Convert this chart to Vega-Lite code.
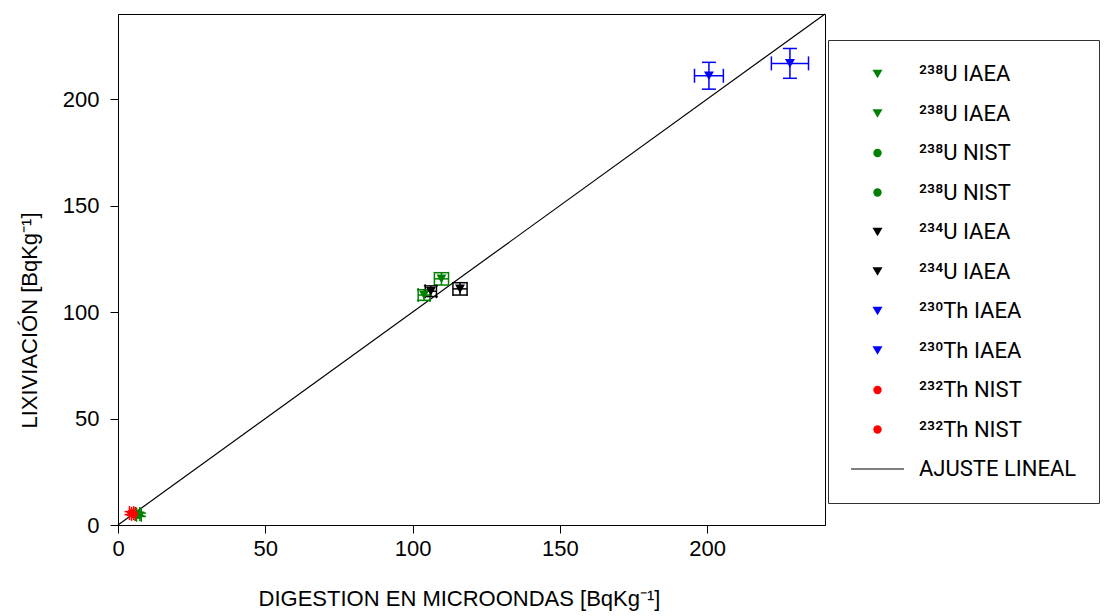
{
  "$schema": "https://vega.github.io/schema/vega-lite/v6.json",
  "width": 707,
  "height": 511,
  "autosize": {"type": "none"},
  "padding": {"left": 118, "top": 14, "right": 280, "bottom": 91},
  "background": "white",
  "config": {
    "font": "Liberation Sans",
    "view": {"stroke": "black", "strokeWidth": 1},
    "axis": {
      "labelFont": "Liberation Sans",
      "titleFont": "Liberation Sans",
      "labelFontSize": 22,
      "titleFontSize": 22,
      "titleFontWeight": "normal",
      "labelColor": "black",
      "titleColor": "black",
      "domainColor": "black",
      "tickColor": "black",
      "tickSize": 8,
      "labelFlush": false,
      "grid": false
    },
    "legend": {
      "labelFont": "Roboto, Noto Sans",
      "labelFontSize": 22,
      "labelColor": "black",
      "labelLimit": 400
    }
  },
  "datasets": {
    "pts": [
      {"series": "²³⁸U IAEA #1", "x": 109.8, "y": 115.6, "xlo": 107.4, "xhi": 112.2, "ylo": 112.7, "yhi": 118.5},
      {"series": "²³⁸U IAEA #2", "x": 103.9, "y": 108.0, "xlo": 101.9, "xhi": 105.9, "ylo": 105.5, "yhi": 110.5},
      {"series": "²³⁸U NIST #1", "x": 6.6, "y": 5.2, "xlo": 5.8, "xhi": 7.4, "ylo": 4.4, "yhi": 6.0},
      {"series": "²³⁸U NIST #2", "x": 7.1, "y": 4.8, "xlo": 6.3, "xhi": 7.9, "ylo": 4.0, "yhi": 5.6},
      {"series": "²³⁴U IAEA #1", "x": 106.2, "y": 109.8, "xlo": 104.3, "xhi": 108.1, "ylo": 107.3, "yhi": 112.3},
      {"series": "²³⁴U IAEA #2", "x": 116.1, "y": 110.9, "xlo": 113.7, "xhi": 118.5, "ylo": 108.0, "yhi": 113.8},
      {"series": "²³⁰Th IAEA #1", "x": 200.6, "y": 211.0, "xlo": 195.7, "xhi": 205.5, "ylo": 204.7, "yhi": 217.3},
      {"series": "²³⁰Th IAEA #2", "x": 228.1, "y": 216.8, "xlo": 221.8, "xhi": 234.4, "ylo": 209.8, "yhi": 223.8},
      {"series": "²³²Th NIST #1", "x": 4.6, "y": 5.6, "xlo": 3.9, "xhi": 5.3, "ylo": 4.9, "yhi": 6.3},
      {"series": "²³²Th NIST #2", "x": 5.3, "y": 5.2, "xlo": 4.6, "xhi": 6.0, "ylo": 4.5, "yhi": 5.9}
    ],
    "fit": [
      {"x": 0, "y": 0},
      {"x": 240, "y": 240}
    ]
  },
  "layer": [
    {
      "data": {"name": "fit"},
      "mark": {"type": "line", "color": "black", "strokeWidth": 1.2},
      "encoding": {
        "x": {"field": "x", "type": "quantitative", "title": "DIGESTION EN MICROONDAS [BqKg⁻¹]",
              "scale": {"domain": [0, 240], "nice": false, "zero": false},
              "axis": {"values": [0, 50, 100, 150, 200], "labelPadding": 5, "titleX": 341, "titleY": 80, "titleAlign": "center", "titleBaseline": "alphabetic"}},
        "y": {"field": "y", "type": "quantitative", "title": "LIXIVIACIÓN [BqKg⁻¹]",
              "scale": {"domain": [0, 240], "nice": false, "zero": false},
              "axis": {"values": [0, 50, 100, 150, 200], "labelPadding": 11, "titleX": -82, "titleY": 306, "titleAlign": "center", "titleBaseline": "alphabetic", "titleAngle": 270}}
      }
    },
    {
      "data": {"name": "pts"},
      "mark": {"type": "rule", "strokeWidth": 1.5},
      "encoding": {
        "x": {"field": "xlo", "type": "quantitative", "title": "DIGESTION EN MICROONDAS [BqKg⁻¹]"},
        "x2": {"field": "xhi"},
        "y": {"field": "y", "type": "quantitative", "title": "LIXIVIACIÓN [BqKg⁻¹]"},
        "stroke": {"field": "series", "type": "nominal", "legend": null,
                   "scale": {"domain": ["²³⁸U IAEA #1","²³⁸U IAEA #2","²³⁸U NIST #1","²³⁸U NIST #2","²³⁴U IAEA #1","²³⁴U IAEA #2","²³⁰Th IAEA #1","²³⁰Th IAEA #2","²³²Th NIST #1","²³²Th NIST #2"],
                             "range": ["#008000","#008000","#008000","#008000","#000000","#000000","#0000FF","#0000FF","#FF0000","#FF0000"]}}
      }
    },
    {
      "data": {"name": "pts"},
      "mark": {"type": "rule", "strokeWidth": 1.5},
      "encoding": {
        "x": {"field": "x", "type": "quantitative", "title": "DIGESTION EN MICROONDAS [BqKg⁻¹]"},
        "y": {"field": "ylo", "type": "quantitative", "title": "LIXIVIACIÓN [BqKg⁻¹]"},
        "y2": {"field": "yhi"},
        "stroke": {"field": "series", "type": "nominal", "legend": null}
      }
    },
    {
      "data": {"name": "pts"},
      "mark": {"type": "tick", "orient": "vertical", "size": 14, "thickness": 1.5, "opacity": 1},
      "encoding": {
        "x": {"field": "xlo", "type": "quantitative", "title": "DIGESTION EN MICROONDAS [BqKg⁻¹]"},
        "y": {"field": "y", "type": "quantitative", "title": "LIXIVIACIÓN [BqKg⁻¹]"},
        "fill": {"field": "series", "type": "nominal", "legend": null,
                 "scale": {"domain": ["²³⁸U IAEA #1","²³⁸U IAEA #2","²³⁸U NIST #1","²³⁸U NIST #2","²³⁴U IAEA #1","²³⁴U IAEA #2","²³⁰Th IAEA #1","²³⁰Th IAEA #2","²³²Th NIST #1","²³²Th NIST #2"],
                           "range": ["#008000","#008000","#008000","#008000","#000000","#000000","#0000FF","#0000FF","#FF0000","#FF0000"]}}
      }
    },
    {
      "data": {"name": "pts"},
      "mark": {"type": "tick", "orient": "vertical", "size": 14, "thickness": 1.5, "opacity": 1},
      "encoding": {
        "x": {"field": "xhi", "type": "quantitative", "title": "DIGESTION EN MICROONDAS [BqKg⁻¹]"},
        "y": {"field": "y", "type": "quantitative", "title": "LIXIVIACIÓN [BqKg⁻¹]"},
        "fill": {"field": "series", "type": "nominal", "legend": null}
      }
    },
    {
      "data": {"name": "pts"},
      "mark": {"type": "tick", "orient": "horizontal", "size": 14, "thickness": 1.5, "opacity": 1},
      "encoding": {
        "x": {"field": "x", "type": "quantitative", "title": "DIGESTION EN MICROONDAS [BqKg⁻¹]"},
        "y": {"field": "ylo", "type": "quantitative", "title": "LIXIVIACIÓN [BqKg⁻¹]"},
        "fill": {"field": "series", "type": "nominal", "legend": null}
      }
    },
    {
      "data": {"name": "pts"},
      "mark": {"type": "tick", "orient": "horizontal", "size": 14, "thickness": 1.5, "opacity": 1},
      "encoding": {
        "x": {"field": "x", "type": "quantitative", "title": "DIGESTION EN MICROONDAS [BqKg⁻¹]"},
        "y": {"field": "yhi", "type": "quantitative", "title": "LIXIVIACIÓN [BqKg⁻¹]"},
        "fill": {"field": "series", "type": "nominal", "legend": null}
      }
    },
    {
      "data": {"name": "pts"},
      "mark": {"type": "point", "filled": true, "opacity": 1},
      "encoding": {
        "x": {"field": "x", "type": "quantitative", "title": "DIGESTION EN MICROONDAS [BqKg⁻¹]"},
        "y": {"field": "y", "type": "quantitative", "title": "LIXIVIACIÓN [BqKg⁻¹]"},
        "color": {"field": "series", "type": "nominal",
                  "scale": {"domain": ["²³⁸U IAEA #1","²³⁸U IAEA #2","²³⁸U NIST #1","²³⁸U NIST #2","²³⁴U IAEA #1","²³⁴U IAEA #2","²³⁰Th IAEA #1","²³⁰Th IAEA #2","²³²Th NIST #1","²³²Th NIST #2","AJUSTE LINEAL"],
                            "range": ["#008000","#008000","#008000","#008000","#000000","#000000","#0000FF","#0000FF","#FF0000","#FF0000","#000000"]},
                  "legend": {
                    "title": null,
                    "orient": "none",
                    "legendX": 710,
                    "legendY": 26,
                    "padding": 22,
                    "strokeColor": "#333333",
                    "labelOffset": 14,
                    "rowPadding": 15.5,
                    "clipHeight": 24,
                    "labelBaseline": "middle",
                    "labelExpr": "split(datum.label, ' #')[0]"
                  }},
        "shape": {"field": "series", "type": "nominal",
                  "scale": {"domain": ["²³⁸U IAEA #1","²³⁸U IAEA #2","²³⁸U NIST #1","²³⁸U NIST #2","²³⁴U IAEA #1","²³⁴U IAEA #2","²³⁰Th IAEA #1","²³⁰Th IAEA #2","²³²Th NIST #1","²³²Th NIST #2","AJUSTE LINEAL"],
                            "range": ["triangle-down","triangle-down","circle","circle","triangle-down","triangle-down","triangle-down","triangle-down","circle","circle","M-1,-0.022L1,-0.022L1,0.022L-1,0.022Z"]}},
        "size": {"field": "series", "type": "nominal",
                 "scale": {"type": "ordinal", "domain": ["²³⁸U IAEA #1","²³⁸U IAEA #2","²³⁸U NIST #1","²³⁸U NIST #2","²³⁴U IAEA #1","²³⁴U IAEA #2","²³⁰Th IAEA #1","²³⁰Th IAEA #2","²³²Th NIST #1","²³²Th NIST #2","AJUSTE LINEAL"],
                           "range": [100, 100, 70, 70, 100, 100, 100, 100, 70, 70, 2809]}}
      }
    }
  ]
}
